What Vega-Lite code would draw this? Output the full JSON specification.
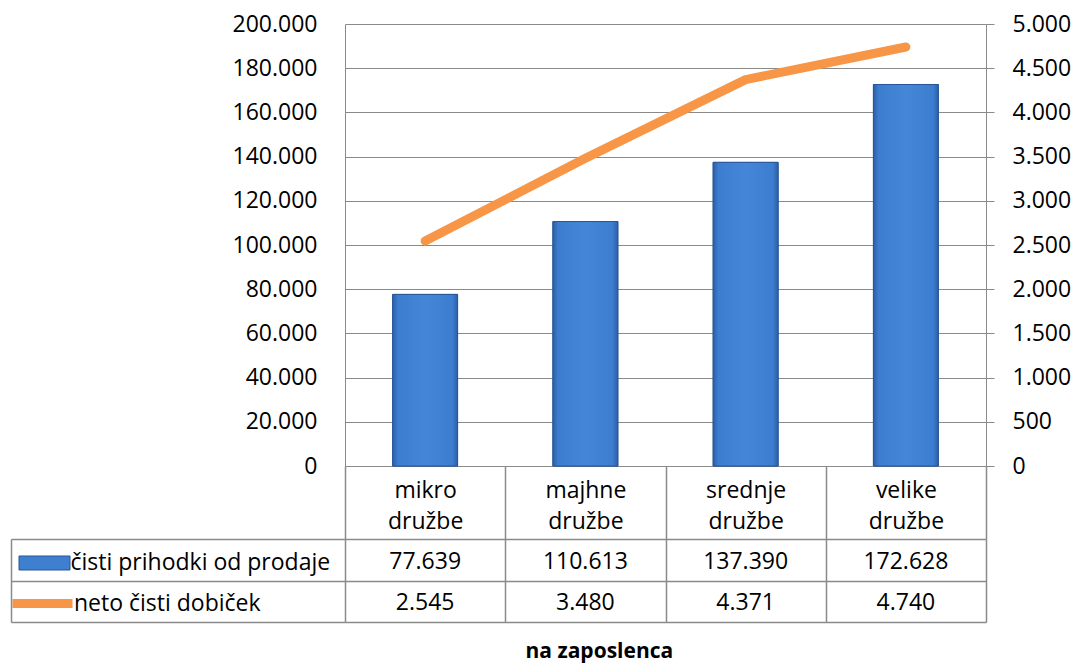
{
  "$schema": "https://vega.github.io/schema/vega-lite/v6.json",
  "datasets": {
    "main": [
      {"category": "mikro družbe", "čisti prihodki od prodaje": 77639, "neto čisti dobiček": 2545},
      {"category": "majhne družbe", "čisti prihodki od prodaje": 110613, "neto čisti dobiček": 3480},
      {"category": "srednje družbe", "čisti prihodki od prodaje": 137390, "neto čisti dobiček": 4371},
      {"category": "velike družbe", "čisti prihodki od prodaje": 172628, "neto čisti dobiček": 4740}
    ]
  },
  "padding": {"left": 8, "top": 13, "right": 5, "bottom": 2},
  "columns": 2,
  "spacing": {"row": 73, "column": 0},
  "bounds": "flush",
  "title": {"text": "na zaposlenca", "orient": "bottom", "anchor": "middle", "font": "Open Sans", "fontSize": 21, "fontWeight": "bold", "color": "#000000", "dx": 60, "offset": 19},
  "resolve": {"legend": {"fill": "independent", "stroke": "independent"}},
  "concat": [
    {
      "width": 334, "height": 442,
      "data": {"values": [{}]},
      "mark": {"type": "text"},
      "encoding": {"text": {"value": ""}}
    },
    {
      "width": 641, "height": 442,
      "data": {"name": "main"},
      "encoding": {
        "x": {
          "field": "category", "type": "nominal", "sort": null,
          "scale": {"paddingInner": 0, "paddingOuter": 0},
          "axis": {
            "title": null, "orient": "bottom", "domainColor": "#8a8a8a", "domainWidth": 1,
            "ticks": true, "tickBand": "extent", "tickSize": 73, "tickColor": "#8a8a8a", "tickWidth": 1.5,
            "labelExpr": "split(datum.label, ' ')", "labelFont": "Open Sans", "labelFontSize": 23,
            "labelColor": "#000000", "labelPadding": -60, "labelLineHeight": 31, "labelAngle": 0,
            "labelOverlap": false, "grid": false
          }
        }
      },
      "layer": [
        {
          "layer": [
            {
              "mark": {"type": "bar", "width": {"band": 0.405}, "stroke": "#2b5797", "strokeWidth": 1},
              "encoding": {
                "y": {
                  "field": "čisti prihodki od prodaje", "type": "quantitative",
                  "scale": {"domain": [0, 200000]},
                  "axis": {
                    "orient": "left", "title": null, "grid": true, "gridColor": "#8a8a8a", "gridWidth": 1,
                    "domain": true, "domainColor": "#8a8a8a", "ticks": false, "labelPadding": 28,
                    "format": ",d", "tickCount": 10, "labelFont": "Open Sans", "labelFontSize": 23, "labelColor": "#000000"
                  }
                },
                "fill": {
                  "datum": "čisti prihodki od prodaje",
                  "scale": {"range": ["#3f7fcf"]},
                  "legend": {
                    "orient": "none", "legendX": -326.5, "legendY": 513, "title": null,
                    "symbolType": "M-1,-0.275H1V0.275H-1Z", "symbolSize": 2601,
                    "symbolStrokeColor": "#2b5797", "symbolStrokeWidth": 1,
                    "labelFont": "Open Sans", "labelFontSize": 23, "labelColor": "#000000",
                    "labelOffset": 0, "labelLimit": 0
                  }
                }
              }
            },
            {
              "mark": {
                "type": "bar", "width": {"band": 0.405}, "stroke": "#2b5797", "strokeWidth": 1,
                "fill": {
                  "gradient": "linear", "x1": 0, "x2": 1, "y1": 0, "y2": 0,
                  "stops": [
                    {"offset": 0, "color": "#2c5fa6"},
                    {"offset": 0.08, "color": "#3d7dcf"},
                    {"offset": 0.5, "color": "#4686d8"},
                    {"offset": 0.92, "color": "#3d7dcf"},
                    {"offset": 1, "color": "#2c5fa6"}
                  ]
                }
              },
              "encoding": {
                "y": {"field": "čisti prihodki od prodaje", "type": "quantitative"}
              }
            }
          ]
        },
        {
          "mark": {"type": "line", "strokeWidth": 9, "strokeCap": "round", "strokeJoin": "round"},
          "encoding": {
            "y": {
              "field": "neto čisti dobiček", "type": "quantitative",
              "scale": {"domain": [0, 5000]},
              "axis": {
                "orient": "right", "title": null, "grid": false, "domain": true, "domainColor": "#8a8a8a",
                "ticks": true, "tickSize": 8, "tickColor": "#8a8a8a", "labelPadding": 18,
                "format": ",d", "tickCount": 10, "labelFont": "Open Sans", "labelFontSize": 23, "labelColor": "#000000"
              }
            },
            "stroke": {
              "datum": "neto čisti dobiček",
              "scale": {"range": ["#f79646"]},
              "legend": {
                "orient": "none", "legendX": -337, "legendY": 545, "title": null,
                "symbolType": "stroke", "symbolSize": 3600, "symbolStrokeWidth": 9,
                "labelFont": "Open Sans", "labelFontSize": 23, "labelColor": "#000000",
                "labelOffset": -3, "labelLimit": 0
              }
            }
          }
        }
      ],
      "resolve": {"scale": {"y": "independent"}, "axis": {"y": "independent"}}
    },
    {
      "width": 334, "height": 83,
      "data": {"values": [{"series": "čisti prihodki od prodaje"}, {"series": "neto čisti dobiček"}]},
      "mark": {"type": "text"},
      "encoding": {
        "y": {
          "field": "series", "type": "nominal",
          "scale": {"domain": ["čisti prihodki od prodaje", "neto čisti dobiček"], "paddingInner": 0, "paddingOuter": 0},
          "axis": {
            "title": null, "labels": false, "ticks": false, "domain": true, "domainColor": "#8a8a8a", "domainWidth": 1.5,
            "grid": true, "tickBand": "extent", "gridColor": "#8a8a8a", "gridWidth": 1.5
          }
        },
        "text": {"value": ""}
      }
    },
    {
      "width": 641, "height": 83,
      "data": {"name": "main"},
      "transform": [{"fold": ["čisti prihodki od prodaje", "neto čisti dobiček"], "as": ["series", "value"]}],
      "mark": {"type": "text", "font": "Open Sans", "fontSize": 23, "color": "#000000", "dy": 2},
      "encoding": {
        "x": {
          "field": "category", "type": "nominal", "sort": null,
          "scale": {"paddingInner": 0, "paddingOuter": 0},
          "axis": {
            "orient": "top", "title": null, "labels": false, "ticks": false, "domain": false,
            "grid": true, "tickBand": "extent", "gridColor": "#8a8a8a", "gridWidth": 1.5
          }
        },
        "y": {
          "field": "series", "type": "nominal",
          "scale": {"domain": ["čisti prihodki od prodaje", "neto čisti dobiček"], "paddingInner": 0, "paddingOuter": 0},
          "axis": {
            "title": null, "labels": false, "ticks": false, "domain": false,
            "grid": true, "tickBand": "extent", "gridColor": "#8a8a8a", "gridWidth": 1.5
          }
        },
        "text": {"field": "value", "type": "quantitative", "format": ",d"}
      }
    }
  ],
  "config": {
    "view": {"stroke": null},
    "font": "Open Sans",
    "locale": {"number": {"decimal": ",", "thousands": ".", "grouping": [3], "currency": ["", " €"]}}
  }
}
